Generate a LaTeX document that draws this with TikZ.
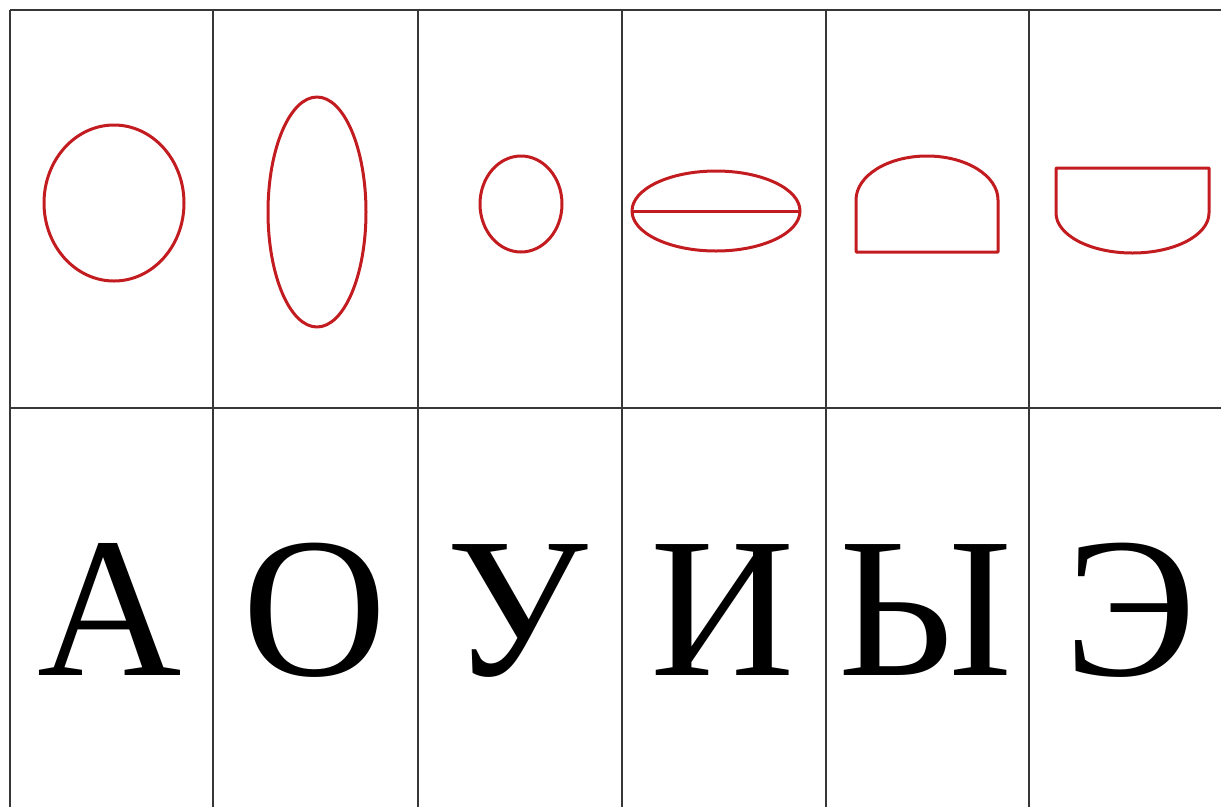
\documentclass[tikz,border=0pt]{standalone}
\usepackage{fontspec}
\setmainfont{Liberation Serif}
\definecolor{shapered}{RGB}{195,28,32}
\definecolor{gridgray}{RGB}{55,55,55}
\tikzset{
  gridline/.style={draw=gridgray, line width=2pt},
  redshape/.style={draw=shapered, line width=3pt, line join=round},
  letter/.style={anchor=base, inner sep=0pt, font=\fontsize{200}{200}\selectfont}
}
\begin{document}
\begin{tikzpicture}[x=1pt,y=-1pt]
\useasboundingbox (0,0) rectangle (1221,807);
% grid
\foreach \xx in {10,213,418,622,826,1029}
  \draw[gridline] (\xx,10) -- (\xx,807);
\draw[gridline] (10,10) -- (1221,10);
\draw[gridline] (10,408) -- (1221,408);
% shapes
\draw[redshape] (114,203) ellipse [x radius=70, y radius=78];
\draw[redshape] (317,212) ellipse [x radius=49, y radius=115];
\draw[redshape] (521,204) ellipse [x radius=41, y radius=48];
\draw[redshape] (716,211) ellipse [x radius=84, y radius=40];
\draw[redshape] (632,211) -- (800,211);
\draw[redshape] (856,252) -- (856,200) arc[start angle=180, end angle=360, x radius=71, y radius=44] -- (998,252) -- cycle;
\draw[redshape] (1056,168) -- (1056,213) arc[start angle=180, end angle=0, x radius=76.5, y radius=40] -- (1209,168) -- cycle;
% letters
\node[letter] (la) at (110,675) {А};
\node[letter] (lo) at (315,675) {О};
\node[letter] (lu) at (517,675) {У};
\node[letter] (li) at (723,675) {И};
\node[letter] (ly) at (926,675) {Ы};
\node[letter] (le) at (1131,675) {Э};
\end{tikzpicture}
\end{document}
